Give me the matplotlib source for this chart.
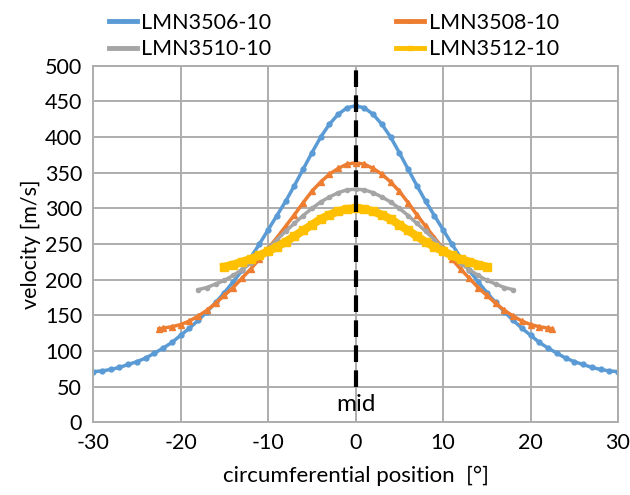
import matplotlib
matplotlib.use("Agg")
import matplotlib.pyplot as plt

# velocity along the circumference
pos_3506 = list(range(-30, 31))
vel_3506 = [71, 72, 74, 77, 81, 85, 90, 97, 104, 112,
            122, 132, 143, 155, 168, 182, 197, 213, 231, 250,
            270, 290, 310, 332, 355, 378, 400, 418, 432, 441,
            444,
            441, 432, 418, 400, 378, 355, 332, 310, 290, 270,
            250, 231, 213, 197, 182, 168, 155, 143, 132, 122,
            112, 104, 97, 90, 85, 81, 77, 74, 72, 71]

pos_3508 = [-22.5] + list(range(-22, 23)) + [22.5]
vel_3508 = [131, 132, 134, 137, 142, 149, 157, 167, 178, 189, 202,
            215, 229, 244, 259, 275, 291, 308, 324, 337, 348, 356, 362,
            364,
            362, 356, 348, 337, 324, 308, 291, 275, 259, 244, 229,
            215, 202, 189, 178, 167, 157, 149, 142, 137, 134, 132, 131]

pos_3510 = list(range(-18, 19))
vel_3510 = [186, 189, 194, 199, 206, 214, 223, 233, 244, 256,
            268, 279, 290, 300, 309, 316, 322, 326,
            327,
            326, 322, 316, 309, 300, 290, 279, 268, 256, 244,
            233, 223, 214, 206, 199, 194, 189, 186]

pos_3512 = list(range(-15, 16))
vel_3512 = [218, 221, 225, 229, 234, 240, 246, 253, 261, 269,
            277, 285, 291, 296, 299,
            300,
            299, 296, 291, 285, 277, 269, 261, 253, 246, 240,
            234, 229, 225, 221, 218]

mid_x = [0, 0]
mid_y = [50, 500]

plt.rcParams['font.family'] = ['Lato', 'DejaVu Sans']
plt.rcParams['axes.unicode_minus'] = False

fig = plt.figure(figsize=(6.3, 4.95), dpi=100)
ax = fig.add_axes([0.148, 0.147, 0.833, 0.72])

grid_col = '#ADADAD'
fs = 15.5

l1, = ax.plot(pos_3506, vel_3506, color='#5B9BD5', lw=2.5, marker='o', ms=3.5, label='LMN3506-10')
l2, = ax.plot(pos_3508, vel_3508, color='#ED7D31', lw=2.5, marker='^', ms=4, label='LMN3508-10')
l3, = ax.plot(pos_3510, vel_3510, color='#A5A5A5', lw=2.5, marker='o', ms=3, label='LMN3510-10')
l4, = ax.plot(pos_3512, vel_3512, color='#FFC000', lw=6, marker='s', ms=6, label='LMN3512-10')

# dashed "mid" marker line
ax.plot(mid_x, mid_y, color='black', lw=3, ls=(0, (4, 2)), zorder=5)
ax.text(0, 25, 'mid', ha='center', va='center', fontsize=17.5)

ax.set_xlim(-30, 30)
ax.set_ylim(0, 500)
ax.set_xticks(range(-30, 31, 10))
ax.set_yticks(range(0, 501, 50))
ax.grid(True, color=grid_col, lw=1.4)
ax.set_axisbelow(True)
for s in ax.spines.values():
    s.set_color(grid_col)
    s.set_linewidth(1.4)
ax.tick_params(length=0, labelsize=fs, pad=8)

ax.set_xlabel('circumferential position  [°]', fontsize=fs + 0.5, labelpad=9)
ax.set_ylabel('velocity [m/s]', fontsize=fs, labelpad=3)

leg = fig.legend([l1, l3, l2, l4], ['LMN3506-10', 'LMN3510-10', 'LMN3508-10', 'LMN3512-10'],
                 ncol=2, loc='center', bbox_to_anchor=(0.53, 0.927), frameon=False,
                 fontsize=fs, handlelength=1.3, handletextpad=0.2, columnspacing=5.8,
                 labelspacing=0.3, markerscale=0.6)
for h in leg.legend_handles:
    h.set_linewidth(3.5)

fig.savefig('out.png', dpi=100)
